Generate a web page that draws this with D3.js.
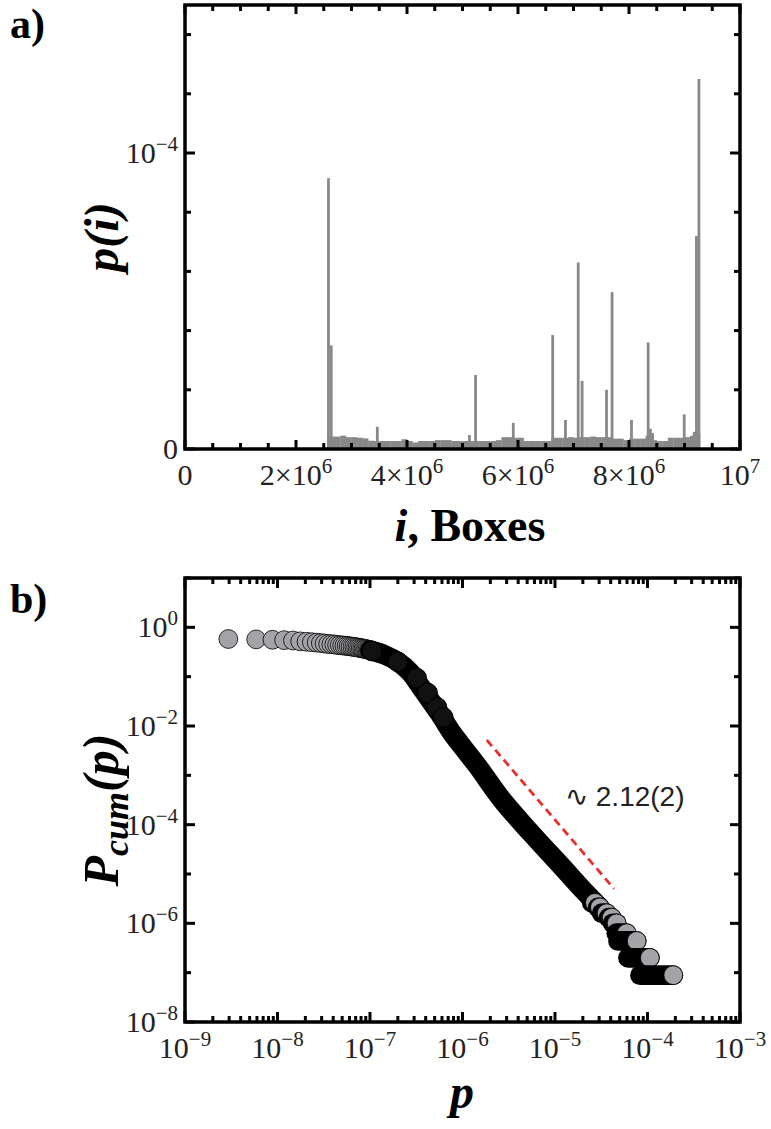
<!DOCTYPE html>
<html>
<head>
<meta charset="utf-8">
<script src="https://cdn.jsdelivr.net/npm/d3@7"></script>
<style>
  body { margin: 0; background: #fff; }
  svg { display: block; }
</style>
</head>
<body>
<svg id="chart" width="771" height="1129"></svg>
<script>
// ---- panel a: p(i) per box ----
// baseline bins: [left edge i, p(i)]
const baseBins = [
  [2.56e6, 0.042e-4], [2.7e6, 0.042e-4], [2.8e6, 0.045e-4], [2.9e6, 0.040e-4], [3.0e6, 0.040e-4],
  [3.1e6, 0.038e-4], [3.2e6, 0.036e-4], [3.3e6, 0.028e-4], [3.4e6, 0.027e-4], [3.5e6, 0.027e-4],
  [3.6e6, 0.027e-4], [3.7e6, 0.027e-4], [3.8e6, 0.027e-4], [3.9e6, 0.033e-4], [4.0e6, 0.027e-4],
  [4.1e6, 0.022e-4], [4.2e6, 0.027e-4], [4.3e6, 0.027e-4], [4.4e6, 0.027e-4], [4.5e6, 0.030e-4],
  [4.6e6, 0.030e-4], [4.7e6, 0.030e-4], [4.8e6, 0.027e-4], [4.9e6, 0.027e-4], [5.0e6, 0.027e-4],
  [5.1e6, 0.027e-4], [5.2e6, 0.027e-4], [5.3e6, 0.027e-4], [5.4e6, 0.027e-4], [5.5e6, 0.027e-4],
  [5.6e6, 0.030e-4], [5.7e6, 0.040e-4], [5.8e6, 0.040e-4], [5.9e6, 0.038e-4], [6.0e6, 0.038e-4],
  [6.1e6, 0.027e-4], [6.2e6, 0.027e-4], [6.3e6, 0.027e-4], [6.4e6, 0.027e-4], [6.5e6, 0.027e-4],
  [6.6e6, 0.038e-4], [6.7e6, 0.038e-4], [6.8e6, 0.038e-4], [6.9e6, 0.040e-4], [7.0e6, 0.038e-4],
  [7.1e6, 0.040e-4], [7.2e6, 0.040e-4], [7.3e6, 0.042e-4], [7.4e6, 0.040e-4], [7.5e6, 0.040e-4],
  [7.6e6, 0.040e-4], [7.7e6, 0.035e-4], [7.8e6, 0.035e-4], [7.9e6, 0.030e-4], [8.0e6, 0.035e-4],
  [8.1e6, 0.035e-4], [8.2e6, 0.035e-4], [8.3e6, 0.045e-4], [8.4e6, 0.030e-4], [8.5e6, 0.027e-4],
  [8.6e6, 0.027e-4], [8.7e6, 0.038e-4], [8.8e6, 0.038e-4], [8.9e6, 0.038e-4], [9.0e6, 0.040e-4],
  [9.1e6, 0.045e-4], [9.2e6, 0.050e-4]
];
const baseEnd = 9.28e6;

// isolated peaks: [i, p(i)]
const spikes = [
  [2.56e6, 0.915e-4], [2.61e6, 0.35e-4], [3.44e6, 0.075e-4], [5.10e6, 0.047e-4],
  [5.21e6, 0.25e-4], [5.89e6, 0.088e-4], [6.60e6, 0.385e-4], [6.83e6, 0.098e-4],
  [7.06e6, 0.63e-4], [7.13e6, 0.23e-4], [7.57e6, 0.20e-4], [7.67e6, 0.53e-4],
  [8.02e6, 0.098e-4], [8.32e6, 0.36e-4], [8.36e6, 0.068e-4], [8.40e6, 0.054e-4],
  [8.97e6, 0.117e-4], [9.15e6, 0.058e-4], [9.19e6, 0.72e-4], [9.235e6, 1.25e-4]
];
const spikeWidth = 0.05e6;

const aXMajor = [0, 2e6, 4e6, 6e6, 8e6, 1e7];
const aXLabels = [["0", ""], ["2×10", "6"], ["4×10", "6"], ["6×10", "6"], ["8×10", "6"], ["10", "7"]];
const aYMajor = [0, 1e-4];
const aYLabels = [["0", ""], ["10", "−4"]];

// ---- panel b: cumulative distribution ----
// resolved markers at small p: [p, Pcum]
const flatPts = [
  [2.94e-9, 0.58], [5.88e-9, 0.57], [8.82e-9, 0.56], [1.18e-8, 0.55], [1.47e-8, 0.54],
  [1.76e-8, 0.52], [2.06e-8, 0.51], [2.35e-8, 0.50], [2.65e-8, 0.49], [2.94e-8, 0.48],
  [3.23e-8, 0.47], [3.53e-8, 0.46], [3.82e-8, 0.455], [4.12e-8, 0.45], [4.41e-8, 0.44],
  [4.70e-8, 0.435], [5.00e-8, 0.43], [5.29e-8, 0.425], [5.59e-8, 0.42], [5.88e-8, 0.415],
  [6.17e-8, 0.41], [6.47e-8, 0.405], [6.76e-8, 0.40], [7.06e-8, 0.395], [7.35e-8, 0.39],
  [7.64e-8, 0.385], [7.94e-8, 0.38], [8.23e-8, 0.375], [8.53e-8, 0.37], [8.82e-8, 0.365],
  [9.11e-8, 0.36], [9.41e-8, 0.355], [9.70e-8, 0.35], [1.00e-7, 0.345]
];
// centre of the dense, fully overlapped run of markers: [p, Pcum]
const densePts = [
  [1.0e-7, 0.345], [1.45e-7, 0.275], [2.0e-7, 0.20], [2.7e-7, 0.124], [3.48e-7, 0.065],
  [4.46e-7, 0.0336], [5.7e-7, 0.0175], [7.7e-7, 7.2e-3], [1.06e-6, 3.3e-3], [1.47e-6, 1.5e-3],
  [2.67e-6, 3.2e-4], [5.37e-6, 7.1e-5], [1.19e-5, 1.4e-5], [2.11e-5, 4.3e-6], [3.06e-5, 2.1e-6]
];
// stacked clusters near the knee: [p, Pcum]
const kneePts = [
  [1.05e-7, 0.33], [2.0e-7, 0.20], [3.2e-7, 0.094], [4.2e-7, 0.047], [5.3e-7, 0.024], [6.2e-7, 0.015]
];
// tail runs of equal Pcum: [p first, p last, Pcum]
const tailRuns = [
  [2.5e-5, 2.7e-5, 2.6e-6], [2.9e-5, 3.06e-5, 2.1e-6], [3.2e-5, 3.62e-5, 1.6e-6],
  [3.8e-5, 4.1e-5, 1.3e-6], [4.2e-5, 4.64e-5, 1.0e-6], [4.6e-5, 5.96e-5, 6.3e-7],
  [4.8e-5, 7.64e-5, 4.4e-7], [6.15e-5, 1.06e-4, 2.0e-7], [8.3e-5, 1.90e-4, 8.9e-8]
];
// fitted slope guide: two end points [p, Pcum]
const fitLine = [[1.83e-6, 5.2e-3], [4.35e-5, 5.0e-6]];
const fitLabel = "∿ 2.12(2)";

const bXMajor = [1e-9, 1e-8, 1e-7, 1e-6, 1e-5, 1e-4, 1e-3];
const bXLabels = ["−9", "−8", "−7", "−6", "−5", "−4", "−3"];
const bYMajor = [1e0, 1e-2, 1e-4, 1e-6, 1e-8];
const bYLabels = ["0", "−2", "−4", "−6", "−8"];

const serif = "'Liberation Serif', 'Times New Roman', serif";
const svg = d3.select("#chart");

function addLabel(sel, base, sup) {
  sel.append("tspan").text(base);
  if (sup) sel.append("tspan").attr("dy", -12).attr("font-size", 21).text(sup);
}

function ticks(g, vals, scale, orient, pos, len) {
  // inward ticks along one edge
  g.append("g").selectAll("line").data(vals).join("line")
    .attr("stroke", "#000").attr("stroke-width", 3)
    .each(function (d) {
      const v = scale(d), s = d3.select(this);
      if (orient === "bottom") s.attr("x1", v).attr("x2", v).attr("y1", pos).attr("y2", pos - len);
      if (orient === "top") s.attr("x1", v).attr("x2", v).attr("y1", pos).attr("y2", pos + len);
      if (orient === "left") s.attr("y1", v).attr("y2", v).attr("x1", pos).attr("x2", pos + len);
      if (orient === "right") s.attr("y1", v).attr("y2", v).attr("x1", pos).attr("x2", pos - len);
    });
}

// ================= panel a =================
const A = { l: 185, r: 740, t: 5, b: 449 };
const xa = d3.scaleLinear().domain([0, 1e7]).range([A.l, A.r]);
const ya = d3.scaleLinear().domain([0, 1.5e-4]).range([A.b, A.t]);
const ga = svg.append("g");

ga.append("g").attr("fill", "#888")
  .selectAll("rect").data(baseBins).join("rect")
  .attr("x", d => xa(d[0]))
  .attr("width", (d, i) => xa(i < baseBins.length - 1 ? baseBins[i + 1][0] : baseEnd) - xa(d[0]) + 0.3)
  .attr("y", d => ya(d[1]))
  .attr("height", d => ya(0) - ya(d[1]));

ga.append("g").attr("fill", "#888")
  .selectAll("rect").data(spikes).join("rect")
  .attr("x", d => xa(d[0]))
  .attr("width", d => xa(d[0] + spikeWidth) - xa(d[0]))
  .attr("y", d => ya(d[1]))
  .attr("height", d => ya(0) - ya(d[1]));

const aXMinor = d3.range(0, 1e7 + 1, 5e5).filter(v => v % 2e6 !== 0);
const aYMinor = d3.range(0.2e-4, 1.45e-4, 0.2e-4).filter(v => Math.abs(v - 1e-4) > 1e-9);
ticks(ga, aXMinor, xa, "bottom", A.b, 6); ticks(ga, aXMajor, xa, "bottom", A.b, 9);
ticks(ga, aXMinor, xa, "top", A.t, 6);    ticks(ga, aXMajor, xa, "top", A.t, 9);
ticks(ga, aYMinor, ya, "left", A.l, 6);   ticks(ga, aYMajor, ya, "left", A.l, 10);
ticks(ga, aYMinor, ya, "right", A.r, 6);  ticks(ga, aYMajor, ya, "right", A.r, 10);

ga.append("rect").attr("x", A.l).attr("y", A.t).attr("width", A.r - A.l).attr("height", A.b - A.t)
  .attr("fill", "none").attr("stroke", "#000").attr("stroke-width", 3.5);

ga.append("g").attr("font-family", serif).attr("font-size", 30).attr("fill", "#222")
  .selectAll("text").data(aXMajor).join("text")
  .attr("x", d => xa(d)).attr("y", A.b + 36).attr("text-anchor", "middle")
  .each(function (d, i) { addLabel(d3.select(this), aXLabels[i][0], aXLabels[i][1]); });

ga.append("g").attr("font-family", serif).attr("font-size", 30).attr("fill", "#222")
  .selectAll("text").data(aYMajor).join("text")
  .attr("x", A.l - 7).attr("y", d => ya(d) + 10).attr("text-anchor", "end")
  .each(function (d, i) { addLabel(d3.select(this), aYLabels[i][0], aYLabels[i][1]); });

ga.append("text").attr("x", 470).attr("y", A.b + 92).attr("text-anchor", "middle")
  .attr("font-family", serif).attr("font-size", 46).attr("font-weight", "bold")
  .call(t => { t.append("tspan").attr("font-style", "italic").text("i"); t.append("tspan").text(", Boxes"); });

ga.append("text").attr("transform", `translate(118,${(A.t + A.b) / 2 + 10}) rotate(-90)`)
  .attr("text-anchor", "middle").attr("font-family", serif).attr("font-size", 48)
  .attr("font-weight", "bold").attr("font-style", "italic").text("p(i)");

svg.append("text").attr("x", 10).attr("y", 38).attr("font-family", serif)
  .attr("font-size", 42).attr("font-weight", "bold").text("a)");

// ================= panel b =================
const B = { l: 185, r: 740, t: 578, b: 1022 };
const xb = d3.scaleLog().domain([1e-9, 1e-3]).range([B.l, B.r]);
const yb = d3.scaleLog().domain([1e-8, 1e1]).range([B.b, B.t]);
const gb = svg.append("g");
const R = 9.4, fillGray = "#a4a4a8";

gb.append("g").selectAll("circle").data(flatPts).join("circle")
  .attr("cx", d => xb(d[0])).attr("cy", d => yb(d[1])).attr("r", R)
  .attr("fill", fillGray).attr("stroke", "#000").attr("stroke-width", 0.8);

gb.append("path").datum(densePts)
  .attr("d", d3.line().x(d => xb(d[0])).y(d => yb(d[1])).curve(d3.curveCatmullRom))
  .attr("fill", "none").attr("stroke", "#000").attr("stroke-width", 2 * R + 1)
  .attr("stroke-linecap", "round").attr("stroke-linejoin", "round");

gb.append("g").selectAll("circle").data(kneePts).join("circle")
  .attr("cx", d => xb(d[0])).attr("cy", d => yb(d[1])).attr("r", R + 0.4)
  .attr("fill", "#111").attr("stroke", "#000");

const tail = gb.append("g").selectAll("g").data(tailRuns).join("g");
tail.append("line")
  .attr("x1", d => xb(d[0])).attr("x2", d => xb(d[1]))
  .attr("y1", d => yb(d[2])).attr("y2", d => yb(d[2]))
  .attr("stroke", "#000").attr("stroke-width", 2 * R + 1).attr("stroke-linecap", "round");
tail.append("circle")
  .attr("cx", d => xb(d[1])).attr("cy", d => yb(d[2])).attr("r", R)
  .attr("fill", fillGray).attr("stroke", "#000").attr("stroke-width", 0.8);

gb.append("line")
  .attr("x1", xb(fitLine[0][0])).attr("y1", yb(fitLine[0][1]))
  .attr("x2", xb(fitLine[1][0])).attr("y2", yb(fitLine[1][1]))
  .attr("stroke", "#e8302a").attr("stroke-width", 2.8).attr("stroke-dasharray", "8,5");

gb.append("text").attr("x", 565).attr("y", 806)
  .attr("font-family", "'Liberation Sans', Arial, sans-serif").attr("font-size", 28)
  .attr("fill", "#222").text(fitLabel);

const bXMinor = xb.ticks().filter(v => Math.abs(Math.log10(v) - Math.round(Math.log10(v))) > 1e-6);
const bYAll = d3.range(-8, 2).map(e => Math.pow(10, e));
const bYMinor = bYAll.filter(v => Math.round(Math.log10(v)) % 2 !== 0);
ticks(gb, bXMinor, xb, "bottom", B.b, 6); ticks(gb, bXMajor, xb, "bottom", B.b, 10);
ticks(gb, bXMinor, xb, "top", B.t, 6);    ticks(gb, bXMajor, xb, "top", B.t, 10);
ticks(gb, bYMinor, yb, "left", B.l, 6);   ticks(gb, bYMajor, yb, "left", B.l, 10);
ticks(gb, bYMinor, yb, "right", B.r, 6);  ticks(gb, bYMajor, yb, "right", B.r, 10);

gb.append("rect").attr("x", B.l).attr("y", B.t).attr("width", B.r - B.l).attr("height", B.b - B.t)
  .attr("fill", "none").attr("stroke", "#000").attr("stroke-width", 3.5);

gb.append("g").attr("font-family", serif).attr("font-size", 30).attr("fill", "#222")
  .selectAll("text").data(bXMajor).join("text")
  .attr("x", d => xb(d)).attr("y", B.b + 36).attr("text-anchor", "middle")
  .each(function (d, i) { addLabel(d3.select(this), "10", bXLabels[i]); });

gb.append("g").attr("font-family", serif).attr("font-size", 30).attr("fill", "#222")
  .selectAll("text").data(bYMajor).join("text")
  .attr("x", B.l - 7).attr("y", d => yb(d) + 10).attr("text-anchor", "end")
  .each(function (d, i) { addLabel(d3.select(this), "10", bYLabels[i]); });

gb.append("text").attr("x", 462).attr("y", B.b + 86).attr("text-anchor", "middle")
  .attr("font-family", serif).attr("font-size", 48).attr("font-weight", "bold")
  .attr("font-style", "italic").text("p");

gb.append("text").attr("transform", `translate(118,${(B.t + B.b) / 2 + 10}) rotate(-90)`)
  .attr("text-anchor", "middle").attr("font-family", serif).attr("font-size", 50)
  .attr("font-weight", "bold").attr("font-style", "italic")
  .call(t => {
    t.append("tspan").text("P");
    t.append("tspan").attr("dy", 10).attr("font-size", 36).text("cum");
    t.append("tspan").attr("dy", -10).text("(p)");
  });

svg.append("text").attr("x", 10).attr("y", 613).attr("font-family", serif)
  .attr("font-size", 42).attr("font-weight", "bold").text("b)");
</script>
</body>
</html>
